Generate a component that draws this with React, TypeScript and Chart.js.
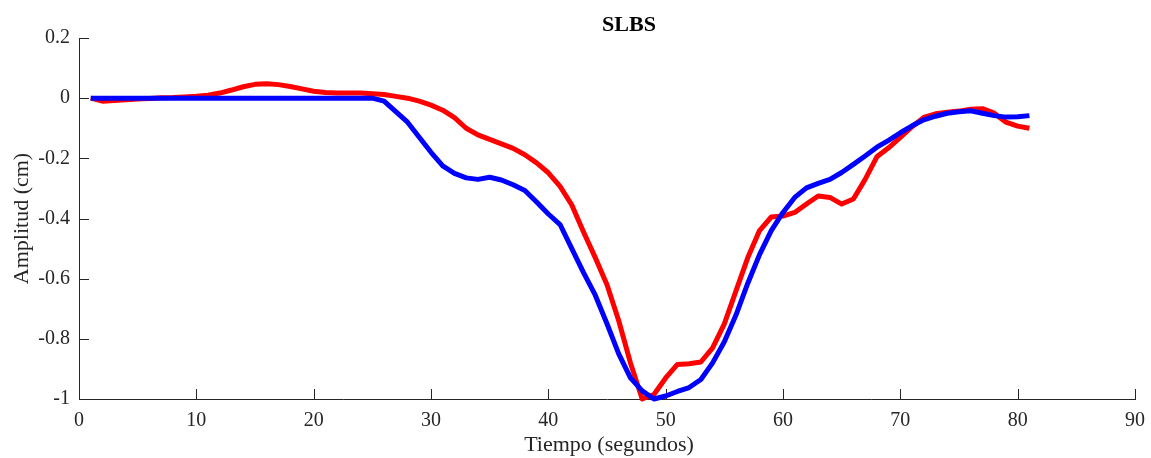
import React, { useEffect, useRef } from "react";
import { Chart, registerables } from "chart.js";

Chart.register(...registerables);

// Time axis (seconds)
const tiempo = [
  1, 2, 3, 4, 5, 6, 7, 8, 9, 10, 11, 12, 13, 14, 15, 16, 17, 18, 19, 20,
  21, 22, 23, 24, 25, 26, 27, 28, 29, 30, 31, 32, 33, 34, 35, 36, 37, 38, 39, 40,
  41, 42, 43, 44, 45, 46, 47, 48, 49, 50, 51, 52, 53, 54, 55, 56, 57, 58, 59, 60,
  61, 62, 63, 64, 65, 66, 67, 68, 69, 70, 71, 72, 73, 74, 75, 76, 77, 78, 79, 80, 81,
];

// Red trace amplitude (cm)
const amplitudRoja = [
  0, -0.01, -0.008, -0.005, -0.003, -0.001, 0.001, 0.002, 0.004, 0.006,
  0.01, 0.017, 0.027, 0.038, 0.046, 0.048, 0.045, 0.039, 0.031, 0.023,
  0.019, 0.017, 0.017, 0.017, 0.015, 0.012, 0.006, 0.0, -0.01, -0.023,
  -0.04, -0.065, -0.1, -0.122, -0.137, -0.152, -0.167, -0.188, -0.215, -0.248,
  -0.293, -0.355, -0.445, -0.53, -0.62, -0.74, -0.88, -1.0, -0.985, -0.93,
  -0.885, -0.883, -0.877, -0.83, -0.75, -0.64, -0.53, -0.44, -0.395, -0.392,
  -0.38, -0.352, -0.325, -0.33, -0.352, -0.335, -0.27, -0.195, -0.165, -0.13,
  -0.095, -0.064, -0.052, -0.047, -0.043, -0.037, -0.035, -0.05, -0.08, -0.093, -0.1,
];

// Blue trace amplitude (cm)
const amplitudAzul = [
  0, 0, 0, 0, 0, 0, 0, 0, 0, 0,
  0, 0, 0, 0, 0, 0, 0, 0, 0, 0,
  0, 0, 0, 0, 0, -0.01, -0.045, -0.08, -0.13, -0.18,
  -0.225, -0.25, -0.265, -0.27, -0.263, -0.272, -0.288, -0.307, -0.345, -0.385,
  -0.42, -0.5, -0.58, -0.655, -0.75, -0.85, -0.93, -0.973, -1.0, -0.99,
  -0.975, -0.962, -0.935, -0.88, -0.81, -0.72, -0.615, -0.52, -0.44, -0.38,
  -0.33, -0.298, -0.283, -0.27, -0.247, -0.22, -0.192, -0.163, -0.14, -0.115,
  -0.092, -0.072, -0.06, -0.05, -0.045, -0.042, -0.05, -0.058, -0.063, -0.062, -0.058,
];

const xTickValues = [0, 10, 20, 30, 40, 50, 60, 70, 80, 90];
const yTickValues = [0.2, 0, -0.2, -0.4, -0.6, -0.8, -1];

const titulo = "SLBS";
const etiquetaX = "Tiempo (segundos)";
const etiquetaY = "Amplitud (cm)";

const AXIS_COLOR = "#262626";
const FONT = "'Liberation Serif', 'Times New Roman', serif";

const fmtTick = (v: number) => {
  const r = Math.round(v * 10) / 10;
  return r === 0 ? "0" : String(r);
};

// Inward tick marks plus title and axis captions
const decorPlugin = {
  id: "decor",
  beforeDatasetsDraw(chart: any) {
    const { ctx, chartArea, scales } = chart;
    const xs = scales.x;
    const ys = scales.y;
    ctx.save();
    ctx.strokeStyle = AXIS_COLOR;
    ctx.lineWidth = 1;
    ctx.beginPath();
    for (const v of xTickValues) {
      const px = Math.round(xs.getPixelForValue(v)) + 0.5;
      ctx.moveTo(px, chartArea.bottom);
      ctx.lineTo(px, chartArea.bottom - 10);
    }
    for (const v of yTickValues) {
      const py = Math.round(ys.getPixelForValue(v)) + 0.5;
      ctx.moveTo(chartArea.left, py);
      ctx.lineTo(chartArea.left + 10, py);
    }
    ctx.stroke();
    ctx.restore();
  },
  afterDraw(chart: any) {
    const { ctx, chartArea } = chart;
    ctx.save();
    ctx.fillStyle = "#000";
    ctx.textAlign = "center";
    ctx.textBaseline = "middle";
    ctx.font = `bold 22px ${FONT}`;
    ctx.fillText(titulo, 629, 25);
    ctx.fillStyle = AXIS_COLOR;
    ctx.font = `22px ${FONT}`;
    ctx.fillText(etiquetaX, (chartArea.left + chartArea.right) / 2 + 2, 445);
    ctx.translate(22, (chartArea.top + chartArea.bottom) / 2);
    ctx.rotate(-Math.PI / 2);
    ctx.fillText(etiquetaY, 0, 0);
    ctx.restore();
  },
};

export default function App() {
  const canvasRef = useRef<HTMLCanvasElement | null>(null);

  useEffect(() => {
    if (!canvasRef.current) return;
    const chart = new Chart(canvasRef.current, {
      type: "line",
      data: {
        datasets: [
          {
            label: "Azul",
            data: tiempo.map((t, i) => ({ x: t, y: amplitudAzul[i] })),
            borderColor: "#0000ff",
            borderWidth: 5,
            pointRadius: 0,
            tension: 0,
            borderJoinStyle: "round",
            clip: false,
            order: 0,
          },
          {
            label: "Roja",
            data: tiempo.map((t, i) => ({ x: t, y: amplitudRoja[i] })),
            borderColor: "#ff0000",
            borderWidth: 5,
            pointRadius: 0,
            tension: 0,
            borderJoinStyle: "round",
            clip: false,
            order: 1,
          },
        ],
      },
      options: {
        responsive: false,
        animation: false,
        devicePixelRatio: 1,
        layout: { padding: { top: 38, right: 16, left: 0, bottom: 0 } },
        plugins: {
          legend: { display: false },
          title: { display: false },
          tooltip: { enabled: false },
        },
        scales: {
          x: {
            type: "linear",
            min: 0,
            max: 90,
            afterBuildTicks: (scale: any) => {
              scale.ticks = xTickValues.map((v) => ({ value: v }));
            },
            afterFit: (scale: any) => {
              scale.height = 59;
              scale.paddingLeft = 0;
              scale.paddingRight = 0;
            },
            grid: { display: false, drawTicks: false },
            border: { display: true, color: AXIS_COLOR, width: 1 },
            ticks: {
              color: AXIS_COLOR,
              font: { family: FONT, size: 20 },
              padding: 10,
              maxRotation: 0,
              autoSkip: false,
              callback: (v: any) => String(v),
            },
          },
          y: {
            type: "linear",
            min: -1,
            max: 0.2,
            afterBuildTicks: (scale: any) => {
              scale.ticks = yTickValues.map((v) => ({ value: v }));
            },
            afterFit: (scale: any) => {
              scale.width = 79;
              scale.paddingTop = 0;
              scale.paddingBottom = 0;
            },
            grid: { display: false, drawTicks: false },
            border: { display: true, color: AXIS_COLOR, width: 1 },
            ticks: {
              color: AXIS_COLOR,
              font: { family: FONT, size: 20 },
              padding: 9,
              autoSkip: false,
              callback: (v: any) => fmtTick(Number(v)),
            },
          },
        },
      },
      plugins: [decorPlugin],
    });
    return () => chart.destroy();
  }, []);

  return (
    <div style={{ position: "fixed", left: 0, top: 0, width: 1151, height: 458, background: "#fff" }}>
      <canvas ref={canvasRef} width={1151} height={458} />
    </div>
  );
}
